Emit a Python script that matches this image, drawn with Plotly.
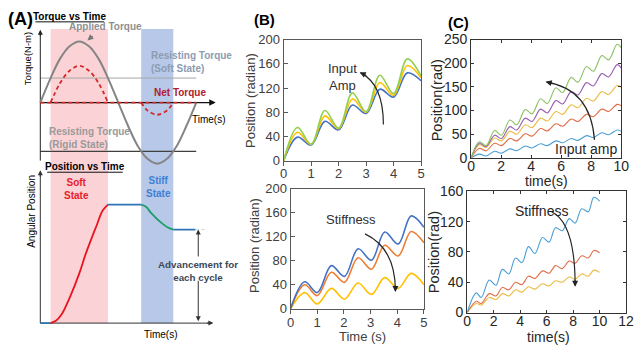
import plotly.graph_objects as go

W, H = 640, 354
FONT = "Liberation Sans, Arial, sans-serif"

def px(x):
    return x / W

def py(y):
    return 1 - y / H

# ---------------- Panel A data (schematic, normalised units) ----------------
tA = [0, 0.0625, 0.125, 0.1875, 0.25, 0.3125, 0.375, 0.4375, 0.5, 0.5625,
      0.625, 0.6875, 0.75, 0.8125, 0.875, 0.9375, 1.0]
applied_torque = [0, 0.38, 0.71, 0.92, 1.0, 0.92, 0.71, 0.38, 0, -0.38,
                  -0.71, -0.92, -1.0, -0.92, -0.71, -0.38, 0]
resist_soft = 0.40
resist_rigid = -0.80
net_soft_t = [0.066, 0.125, 0.1875, 0.25, 0.3125, 0.375, 0.434]
net_soft = [0, 0.31, 0.52, 0.60, 0.52, 0.31, 0]
net_stiff_t = [0.647, 0.6875, 0.75, 0.8125, 0.853]
net_stiff = [0, -0.13, -0.20, -0.13, 0]
soft_window = [0.066, 0.434]
stiff_window = [0.647, 0.853]

pos_rest_t = [0, 0.066]
pos_rest = [0, 0]
pos_soft_t = [0.066, 0.1, 0.135, 0.19, 0.25, 0.29, 0.33, 0.36, 0.4, 0.434]
pos_soft = [0, 0.02, 0.07, 0.22, 0.42, 0.58, 0.72, 0.82, 0.95, 1.0]
pos_hold_t = [0.434, 0.647]
pos_hold = [1.0, 1.0]
pos_stiff_t = [0.647, 0.68, 0.71, 0.773, 0.815, 0.853]
pos_stiff = [1.0, 0.98, 0.93, 0.85, 0.81, 0.79]
pos_end_t = [0.853, 0.995]
pos_end = [0.79, 0.79]
advance_t = 1.013

# ---------------- Panel B data ----------------
tB1 = [0, 0.5, 1.0, 1.5, 2.0, 2.5, 3.0, 3.5, 4.0, 4.5, 5.0]
B1_green = [0, 55, 27, 83, 54, 112, 81, 141, 111, 168, 140]
B1_yellow = [0, 47, 27, 74, 53, 102, 80, 129, 108, 157, 137]
B1_blue = [0, 39, 26, 65, 51, 92, 78, 118, 105, 145, 132]

tB2 = [0, 0.53, 1.0, 1.53, 2.02, 2.53, 3.03, 3.53, 4.03, 4.52, 5.0]
B2_blue = [0, 45, 27, 72, 54, 100, 81, 128, 108, 155, 136]
B2_orange = [0, 40, 22, 61, 44, 85, 66, 106, 88, 129, 110]
B2_yellow = [0, 27, 8, 34, 16, 43, 24, 52, 34, 59, 40]

# ---------------- Panel C data ----------------
tC1 = [0, 0.55, 1.0, 1.57, 2.02, 2.59, 3.04, 3.61, 4.06, 4.63, 5.08, 5.65,
       6.1, 6.67, 7.12, 7.69, 8.14, 8.71, 9.16, 9.73, 10.0]
C1_green = [0, 34, 26, 58, 48, 80, 70, 102, 93, 125, 115, 148, 138, 170, 160,
            193, 183, 216, 207, 240, 233]
C1_purple = [0, 31, 24, 48, 41, 66, 59, 84, 77, 103, 95, 121, 114, 140, 133,
             159, 152, 178, 171, 197, 190]
C1_yellow = [0, 28, 22, 42, 36, 56, 50, 70, 64, 84, 78, 98, 92, 112, 106, 126,
             120, 140, 134, 153, 149]
C1_red = [0, 20, 15, 31, 26, 41, 36, 51, 46, 62, 57, 72, 67, 82, 77, 92, 87,
          103, 98, 113, 110]
C1_blue = [0, 8, 4, 14, 10, 19, 15, 25, 21, 30, 26, 36, 32, 41, 37, 47, 43, 53,
           49, 59, 56]

tC2 = [0, 0.69, 1.06, 1.67, 2.17, 2.66, 3.15, 3.65, 4.14, 4.63, 5.12, 5.69,
       6.18, 6.67, 7.17, 7.71, 8.15, 8.65, 9.14, 9.56, 10.0]
C2_blue = [0, 26, 20, 43, 36, 57, 51, 72, 66, 87, 78, 99, 93, 112, 108, 124,
           118, 137, 133, 152, 147]
C2_red = [0, 15, 12, 25, 22, 33, 30, 40, 37, 48, 45, 55, 52, 62, 58, 68, 65,
          75, 72, 82, 79]
C2_yellow = [0, 12, 10, 20, 17, 25, 22, 30, 27, 34, 31, 38, 35, 42, 40, 47, 44,
             51, 48, 56, 53]

fig = go.Figure()

def line(x, y, xa, ya, color, width=1.5, dash=None, shape="linear", smoothing=1.0):
    fig.add_trace(go.Scatter(x=x, y=y, xaxis=xa, yaxis=ya, mode="lines",
                             line=dict(color=color, width=width, dash=dash,
                                       shape=shape, smoothing=smoothing if shape == "spline" else None),
                             hoverinfo="skip", showlegend=False))

# ---- Panel A top: torque vs time ----
line([0, 1.0], [resist_soft, resist_soft], "x", "y", "#a6a6a6", 1.0)
line([0, 1.0], [resist_rigid, resist_rigid], "x", "y", "#3f3f3f", 1.2)
line([0, 1.11], [0, 0], "x", "y", "#111111", 1.3)
line([0, 0], [-0.95, 1.15], "x", "y", "#222222", 1.0)
line(tA, applied_torque, "x", "y", "#858585", 2.0, shape="spline")
line([0, 1.0], [0, 0], "x", "y", "#d42a2a", 1.8, dash="4px,3px")
line(net_soft_t, net_soft, "x", "y", "#d42a2a", 1.8, dash="4px,3px", shape="spline")
line(net_stiff_t, net_stiff, "x", "y", "#d42a2a", 1.8, dash="4px,3px", shape="spline")

# ---- Panel A bottom: position vs time ----
line([0, 1.1], [0, 0], "x2", "y2", "#333333", 1.0)
line([0, 0], [0, 1.27], "x2", "y2", "#333333", 1.0)
line(pos_rest_t, pos_rest, "x2", "y2", "#2e75b6", 1.8)
line(pos_soft_t, pos_soft, "x2", "y2", "#e8141e", 1.8, shape="spline")
line(pos_hold_t, pos_hold, "x2", "y2", "#2e75b6", 1.8)
line(pos_stiff_t, pos_stiff, "x2", "y2", "#1f9e6a", 1.8, shape="spline")
line(pos_end_t, pos_end, "x2", "y2", "#2e75b6", 1.8)
line([0.995, 1.07], [0.79, 0.79], "x2", "y2", "#c8c8c8", 0.8, dash="dot")

# ---- Panel B ----
line(tB1, B1_blue, "x3", "y3", "#4472c4", 1.6, shape="spline")
line(tB1, B1_yellow, "x3", "y3", "#ffc000", 1.6, shape="spline")
line(tB1, B1_green, "x3", "y3", "#92d050", 1.6, shape="spline")
line(tB2, B2_yellow, "x4", "y4", "#ffc000", 1.6, shape="spline")
line(tB2, B2_orange, "x4", "y4", "#ed7d31", 1.6, shape="spline")
line(tB2, B2_blue, "x4", "y4", "#4472c4", 1.6, shape="spline")

# ---- Panel C ----
line(tC1, C1_blue, "x5", "y5", "#4a9fd6", 1.1, shape="spline")
line(tC1, C1_red, "x5", "y5", "#e0704c", 1.1, shape="spline")
line(tC1, C1_yellow, "x5", "y5", "#ecbc46", 1.1, shape="spline")
line(tC1, C1_purple, "x5", "y5", "#9a5fb2", 1.1, shape="spline")
line(tC1, C1_green, "x5", "y5", "#8cc063", 1.1, shape="spline")
line(tC2, C2_yellow, "x6", "y6", "#ecbc46", 1.1, shape="spline")
line(tC2, C2_red, "x6", "y6", "#e0704c", 1.1, shape="spline")
line(tC2, C2_blue, "x6", "y6", "#4a9fd6", 1.1, shape="spline")

# ---- Shapes ----
shapes = [
    dict(type="rect", xref="x", yref="paper", x0=soft_window[0], x1=soft_window[1],
         y0=py(330), y1=py(22), fillcolor="#fbd3d6", line=dict(width=0), layer="below"),
    dict(type="rect", xref="x", yref="paper", x0=stiff_window[0], x1=stiff_window[1],
         y0=py(330), y1=py(22), fillcolor="#b7c8e8", line=dict(width=0), layer="below"),
    # underlines
    dict(type="line", xref="paper", yref="paper", x0=px(32), x1=px(102), y0=py(14.5), y1=py(14.5),
         line=dict(color="#111", width=1)),
    dict(type="line", xref="paper", yref="paper", x0=px(44), x1=px(121), y0=py(172), y1=py(172),
         line=dict(color="#111", width=1)),
    # curved arrows
    dict(type="path", xref="x3", yref="y3", path="M 3.63,60 Q 3.63,126 2.80,145",
         line=dict(color="#262626", width=1.2)),
    dict(type="path", xref="x4", yref="y4", path="M 2.79,125 Q 3.93,101 3.93,30",
         line=dict(color="#262626", width=1.2)),
    dict(type="path", xref="x5", yref="y5", path="M 8.22,38 Q 7.97,145 5.02,160",
         line=dict(color="#262626", width=1.2)),
    dict(type="path", xref="x6", yref="y6", path="M 6.37,133 Q 8.15,118 8.15,36",
         line=dict(color="#262626", width=1.2)),
]

ann = []

def txt(x, y, s, size, color="#000", xanchor="center", angle=0, align="center"):
    ann.append(dict(x=px(x), y=py(y), xref="paper", yref="paper", text=s, showarrow=False,
                    font=dict(size=size, color=color, family=FONT), xanchor=xanchor,
                    yanchor="middle", textangle=angle, align=align))

def head(x, y, xr, yr, ax, ay, color="#222", width=1.2, size=1.0):
    ann.append(dict(x=x, y=y, xref=xr, yref=yr, text="", showarrow=True, arrowhead=2,
                    arrowsize=size, arrowwidth=width, arrowcolor=color, ax=ax, ay=ay,
                    standoff=0))

def arrow_data(x, y, tx, ty, xr, yr, color="#222", width=1.0):
    ann.append(dict(x=x, y=y, xref=xr, yref=yr, axref=xr, ayref=yr, ax=tx, ay=ty, text="",
                    showarrow=True, arrowhead=2, arrowsize=1, arrowwidth=width,
                    arrowcolor=color, standoff=0))

# axis arrowheads panel A
head(1.125, 0, "x", "y", -8, 0, "#111", 1.3)
head(0, 1.19, "x", "y", 0, 8, "#222", 1.0)
head(1.11, 0, "x2", "y2", -8, 0, "#333", 1.0)
head(0, 1.29, "x2", "y2", 0, 8, "#333", 1.0)
arrow_data(0.302, 1.016, 0.345, 1.11, "x", "y", "#777", 1.2)
arrow_data(advance_t, 0.79, advance_t, 0.55, "x2", "y2", "#333", 1.0)
arrow_data(advance_t, 0.015, advance_t, 0.37, "x2", "y2", "#333", 1.0)

# curved arrow heads
head(2.77, 146, "x3", "y3", 8, 4)
head(3.93, 28, "x4", "y4", 0, -8)
head(4.97, 161, "x5", "y5", 8, 2)
head(8.15, 34, "x6", "y6", 0, -8)

# Panel A texts
txt(2, 11, "<b>(A)</b>", 18, xanchor="left")
txt(67, 9, "<b>Torque vs Time</b>", 10)
txt(103.5, 19, "<b>Applied Torque</b>", 10, "#8f8f8f")
txt(148, 56.5, "<b>Resisting Torque<br>(Soft State)</b>", 10, "#8d9cb3", xanchor="left", align="left")
txt(179, 88, "<b>Net Torque</b>", 10, "#b0202e")
txt(209, 117, "Time(s)", 10)
txt(44, 136.5, "<b>Resisting Torque<br>(Rigid State)</b>", 10, "#9a9a9a", xanchor="left", align="left")
txt(24, 53, "Torque(N-m)", 9.5, angle=-90)
txt(82.5, 166, "<b>Position vs Time</b>", 10)
txt(74, 189.5, "<b>Soft<br>State</b>", 10, "#e8202a")
txt(157, 187, "<b>Stiff<br>State</b>", 10, "#3f7fd4")
txt(28, 213, "Angular Position", 10, angle=-90)
txt(198, 275, "<b>Advancement for<br>each cycle</b>", 9.8, "#3c4858")
txt(160, 341.5, "Time(s)", 10)

# Panel B texts
txt(265, 12, "<b>(B)</b>", 15)
txt(251, 97, "Position (radian)", 13, "#404040", angle=-90)
txt(256, 249, "Position (radian)", 13, "#404040", angle=-90)
txt(365, 344.5, "Time (s)", 13, "#404040")
txt(345, 72, "Input<br>Amp", 13, "#303030")
txt(354, 222, "Stiffness", 13, "#303030")

# Panel C texts
txt(463, 15, "<b>(C)</b>", 15)
txt(441, 97, "Position(rad)", 14.5, "#262626", angle=-90)
txt(439, 256, "Position(rad)", 14.5, "#262626", angle=-90)
txt(553, 181, "time(s)", 14, "#262626")
txt(555, 345, "time(s)", 14, "#262626")
txt(593, 148, "Input amp", 14, "#262626")
txt(548, 213, "Stiffness", 14, "#262626")

# ---- Axes ----
hidden = dict(visible=False, showgrid=False, zeroline=False, fixedrange=True)

def baxis(domain, rng, dtick, anchor, ticks, standoff=0):
    return dict(domain=domain, range=rng, dtick=dtick, anchor=anchor, showline=True, mirror=True,
                linecolor="#595959", linewidth=1, ticks=ticks, ticklen=4, tickcolor="#595959",
                tickfont=dict(size=13, color="#404040", family=FONT), showgrid=False,
                zeroline=False, ticklabelstandoff=standoff)

def caxis(domain, rng, dtick, anchor, standoff=0):
    return dict(domain=domain, range=rng, dtick=dtick, anchor=anchor, showline=True,
                mirror="allticks", linecolor="#333333", linewidth=1, ticks="inside", ticklen=3,
                tickcolor="#333333", tickfont=dict(size=14, color="#262626", family=FONT),
                showgrid=False, zeroline=False, ticklabelstandoff=standoff)

fig.update_layout(
    width=W, height=H, margin=dict(l=0, r=0, t=0, b=0),
    paper_bgcolor="white", plot_bgcolor="rgba(0,0,0,0)",
    showlegend=False, font=dict(family=FONT),
    xaxis=dict(domain=[px(32), px(216)], range=[-0.0315, 1.1265], anchor="y", **hidden),
    yaxis=dict(domain=[py(165), py(20)], range=[-1.031, 1.234], anchor="x", **hidden),
    xaxis2=dict(domain=[px(32), px(216)], range=[-0.0315, 1.1265], anchor="y2", **hidden),
    yaxis2=dict(domain=[py(334), py(168)], range=[-0.032, 1.306], anchor="x2", **hidden),
    xaxis3=baxis([px(285), px(425)], [0, 5], 1, "y3", "outside", -3),
    yaxis3=baxis([py(160), py(33)], [0, 200], 40, "x3", "inside"),
    xaxis4=baxis([px(292), px(428)], [0, 5], 1, "y4", "outside", -2),
    yaxis4=baxis([py(315), py(189.5)], [0, 200], 40, "x4", "inside"),
    xaxis5=caxis([px(476), px(629)], [0, 10], 2, "y5", -5),
    yaxis5=caxis([py(157), py(33)], [0, 250], 50, "x5"),
    xaxis6=caxis([px(472), px(634)], [0, 12], 2, "y6", -4),
    yaxis6=caxis([py(319), py(192)], [0, 160], 40, "x6"),
    shapes=shapes, annotations=ann,
)

fig.write_html("out.html", config={"displayModeBar": False},
               post_script="document.body.style.margin='0';document.body.style.padding='0';")
